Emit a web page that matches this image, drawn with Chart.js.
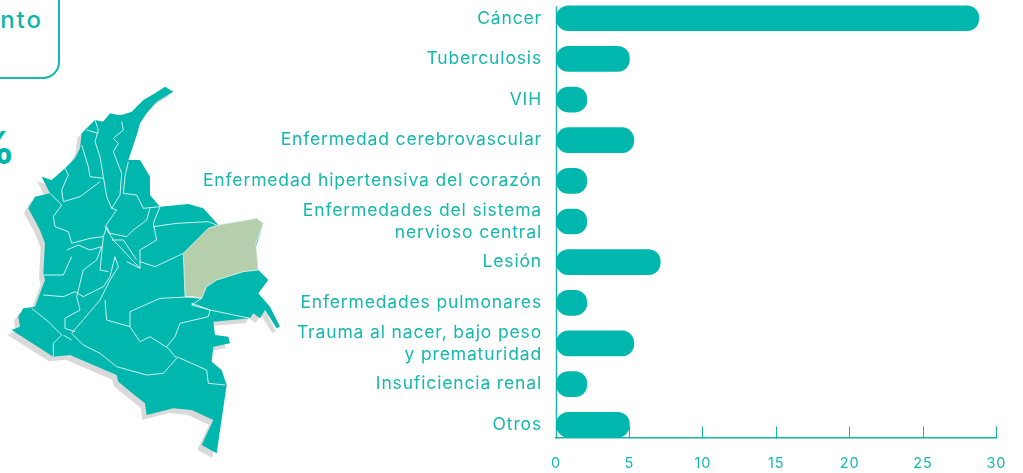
<!DOCTYPE html>
<html lang="es">
<head>
<meta charset="utf-8">
<title>Causas de mortalidad</title>
<script src="https://cdn.jsdelivr.net/npm/chart.js@4"></script>
<style>
html,body{margin:0;padding:0;background:#fff;width:1023px;height:473px;overflow:hidden}
body{position:relative;font-family:Inter,"Open Sans",sans-serif}
#chart{position:absolute;left:0;top:-27px;z-index:2}
#map{position:absolute;left:0;top:80px;z-index:1}
#box{position:absolute;left:-40px;top:-30px;width:96px;height:105px;border:2px solid #16b9af;border-radius:17px;box-sizing:content-box}
#boxText{position:absolute;right:980px;top:5px;color:#0fb5ab;font-size:24px;font-weight:500;white-space:nowrap;letter-spacing:2px}
#pct{position:absolute;right:1008px;top:122px;color:#00b5ad;font-size:44px;font-weight:700;line-height:50px}
</style>
</head>
<body>
<div id="box"></div>
<div id="boxText">nto</div>
<div id="pct">%</div>
<svg id="map" width="290" height="390" viewBox="0 0 870 1170" aria-hidden="true">
  <defs>
    <path id="col" d="M520 35 L495 20 465 40 430 60 395 95 365 105 355 105 330 100 310 125 285 120 245 160 240 205 225 235 195 265 155 300 125 290 140 320 150 340 105 350 85 385 120 450 135 490 130 580 135 600 105 680 70 685 55 710 60 740 35 750 160 830 210 825 350 885 355 905 410 950 435 970 440 1005 520 985 575 990 640 1020 605 1095 650 1120 680 915 665 870 635 845 640 800 690 790 685 770 645 765 640 725 750 715 760 700 780 715 795 690 830 745 840 740 810 680 775 640 805 600 775 570 768 500 790 430 770 415 655 435 610 385 565 372 480 380 450 345 450 290 420 240 385 240 412 160 420 130 440 100 470 65 Z"/>
  </defs>
  <use href="#col" x="-13" y="14" fill="#d9d9d9"/>
  <use href="#col" fill="#00b7ae"/>
  <path d="M655 435 770 415 790 430 768 490 775 570 730 575 650 600 620 620 605 655 555 650 550 520 590 480 625 445Z" fill="#b5ceab" stroke="#fff" stroke-width="2"/>
  <g fill="none" stroke="#fff" stroke-width="2.4" stroke-linejoin="round">
    <path d="M285 120 295 150 285 185 300 230 310 290 320 350 335 385 360 345 365 280 340 215 355 190 340 175 370 150 365 125"/>
    <path d="M260 150 295 160M245 195 265 260 270 290 310 295"/>
    <path d="M300 305 240 350 190 365 185 330 205 285 195 265"/>
    <path d="M385 245 375 290 370 340 410 345 430 385 480 380 460 430 470 480 420 510 420 565 340 480 315 440 350 390 335 385"/>
    <path d="M460 440 530 430 625 425 650 435M420 545 465 560 550 520"/>
    <path d="M150 340 185 375 160 410 165 440 205 455 215 490 270 475 310 470 320 440 330 460 380 470 400 450 440 420 450 385"/>
    <path d="M200 510 235 495 270 510 305 500 290 540 250 570 230 650 240 690 195 715 195 745 225 755"/>
    <path d="M215 530 190 585 130 585M130 645 190 650 225 635 250 650 310 620 330 590 345 530 355 560 330 600 300 660 215 760 250 795 300 820 350 860 440 885 490 880 530 835 505 805 450 770 420 785 390 740 320 720 315 660"/>
    <path d="M310 470 300 570 325 575M380 545 420 565M335 480 370 480 410 540"/>
    <path d="M390 740 390 695 480 655 580 650 605 655 575 675 630 690 625 710 540 730 525 770 500 800"/>
    <path d="M575 670 630 690 750 715M530 830 575 850 620 870 625 910 675 915"/>
    <path d="M95 685 145 725 185 765 160 790 160 830M190 765 215 780"/>
  </g>
</svg>
<canvas id="chart" width="1035" height="497"></canvas>
<script>
const categories = ["Cáncer","Tuberculosis","VIH","Enfermedad cerebrovascular","Enfermedad hipertensiva del corazón",["Enfermedades del sistema","nervioso central"],"Lesión","Enfermedades pulmonares",["Trauma al nacer, bajo peso","y prematuridad"],"Insuficiencia renal","Otros"];
const values = [28.8,5,2.1,5.3,2.1,2.1,7.1,2.1,5.3,2.1,5];
const xTicks = [0,5,10,15,20,25,30];

const barColor = "#00b7ae", lineColor = "#19b3a9", textColor = "#14b8ad";
const fontFamily = 'Inter, "Open Sans", sans-serif';

const yAxisLine = {
  id: "yAxisLine",
  beforeDraw(chart) { chart.ctx.letterSpacing = "0.85px"; },
  beforeDatasetsDraw(chart) {
    const {ctx, scales:{x, y}} = chart;
    ctx.save();
    ctx.strokeStyle = lineColor;
    ctx.lineWidth = 1.5;
    ctx.beginPath();
    const px = Math.round(x.getPixelForValue(0)) + .5;
    ctx.moveTo(px, y.getPixelForValue(0) - 12);
    ctx.lineTo(px, y.getPixelForValue(10.31));
    ctx.stroke();
    ctx.restore();
  }
};

new Chart(document.getElementById("chart"), {
  type: "bar",
  data: { labels: categories, datasets: [{ data: values, backgroundColor: barColor, borderRadius: 12, borderSkipped: false, barThickness: 25 }] },
  options: {
    indexAxis: "y", responsive: false, animation: false,
    layout: { padding: { top: 8, right: 15.5, bottom: 10.3, left: 0 } },
    plugins: { legend: { display: false }, tooltip: { enabled: false } },
    scales: {
      x: {
        min: 0, max: 30,
        position: { y: 10.31 },
        afterFit(s) { s.height = 29; },
        afterBuildTicks(s) { s.ticks = xTicks.map(v => ({ value: v })); },
        border: { display: true, color: lineColor, width: 1.5 },
        grid: { drawOnChartArea: false, drawTicks: true, tickLength: -12, color: lineColor, tickWidth: 1 },
        ticks: { color: textColor, font: { family: fontFamily, size: 14.5 }, padding: 29.5, maxRotation: 0, autoSkip: false }
      },
      y: {
        type: "category",
        afterFit(s) { s.width = 556; },
        border: { display: false },
        grid: { display: false, drawTicks: false },
        ticks: { color: textColor, autoSkip: false, padding: 14, font: { family: fontFamily, size: 17.5, lineHeight: 1.25 } }
      }
    }
  },
  plugins: [yAxisLine]
});
</script>
</body>
</html>
